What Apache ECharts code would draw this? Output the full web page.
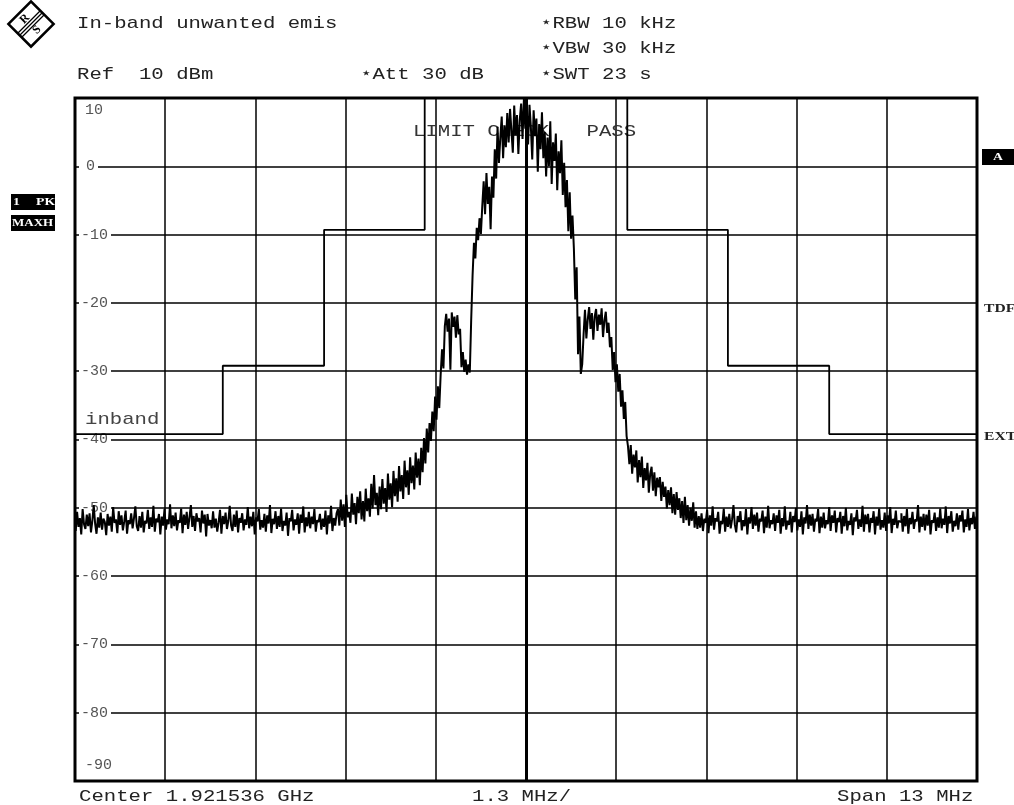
<!DOCTYPE html>
<html><head><meta charset="utf-8">
<script src="https://cdn.jsdelivr.net/npm/echarts@6/dist/echarts.min.js"></script>
<style>html,body{margin:0;padding:0;background:#fff}#c{width:1014px;height:805px}</style>
</head><body><div id="c"></div>
<script>
// Sweep: frequency offset from centre (MHz), evenly spaced analyzer points
const sweepStartMHz = -6.5;
const sweepStepMHz = 0.02;

// Trace levels (dBm) (max hold)
const traceLeftFloor = [
-51.2,-53.4,-50.6,-52.8,-51.5,-53.9,-50.2,-52.4,-53.1,-51.0,
-52.7,-50.8,-53.6,-51.9,-49.6,-52.3,-53.8,-51.4,-52.9,-50.7,
-53.2,-51.6,-52.1,-54.0,-50.9,-52.6,-51.3,-53.5,-49.9,-52.2,
-51.7,-53.7,-50.5,-52.5,-51.1,-53.3,-52.0,-50.4,-53.8,-51.8,
-52.4,-50.8,-53.0,-51.5,-49.8,-52.7,-53.4,-51.2,-52.9,-50.6,
-53.6,-51.9,-52.3,-50.3,-53.1,-51.4,-52.8,-49.7,-53.5,-51.6,
-52.1,-50.9,-53.9,-51.3,-52.6,-50.2,-53.2,-51.7,-52.4,-49.5,
-53.0,-51.1,-52.7,-50.7,-53.3,-51.8,-52.2,-50.1,-53.7,-51.0,
-52.5,-50.6,-53.1,-51.4,-49.6,-52.8,-51.2,-53.4,-50.8,-52.0,
-51.5,-53.6,-50.4,-52.3,-51.0,-54.2,-50.9,-52.6,-51.8,-53.0,
-50.5,-52.9,-51.6,-53.5,-52.1,-50.3,-53.8,-51.2,-52.4,-50.7,
-53.1,-51.9,-49.7,-52.6,-53.4,-51.0,-52.8,-50.4,-53.6,-51.5,
-52.2,-50.8,-53.3,-51.7,-52.5,-49.9,-53.0,-51.3,-52.7,-50.6,
-53.9,-51.4,-52.0,-50.2,-53.2,-51.8,-52.9,-50.9,-53.5,-51.1,
-52.3,-49.6,-53.7,-51.6,-52.4,-50.5,-53.1,-51.2,-52.8,-50.1,
-53.4,-51.9,-52.6,-50.7,-54.1,-51.5,-52.0,-50.3,-53.3,-51.7,
-52.5,-50.8,-53.8,-51.0,-52.2,-49.8,-53.6,-51.4,-52.7,-50.6,
-53.0,-51.3,-52.4,-50.2,-53.5,-51.8,-52.1,-50.9,-53.2,-51.6,
-52.8,-50.4,-53.9,-51.1,-52.3,-49.7,-53.4,-51.5,-52.6,-50.8
];
const traceSignal = [
-50.2,-52.6,-48.8,-51.9,-49.5,-52.8,-48.1,-51.4,-50.6,-52.2,
-47.9,-51.0,-49.3,-52.4,-48.4,-50.8,-47.6,-51.7,-49.0,-52.0,
-47.2,-50.5,-48.6,-51.3,-46.5,-50.1,-45.2,-49.6,-47.8,-51.1,
-46.9,-50.2,-45.8,-49.4,-47.1,-50.6,-45.0,-48.8,-46.4,-49.9,
-44.6,-48.3,-45.7,-49.1,-43.9,-47.6,-45.2,-48.7,-43.1,-47.0,
-44.5,-48.1,-42.6,-46.4,-43.8,-47.3,-41.9,-45.6,-42.8,-46.7,
-41.2,-44.8,-39.8,-43.5,-38.4,-41.9,-37.6,-40.2,-35.9,-38.8,-33.7,-37.1,-32.2,-35.4,
-30.5,-26.8,-29.6,-23.4,
-21.6,-24.2,-22.3,-29.8,-21.4,-23.5,-22.0,-25.1,-21.8,-24.6,
-23.8,-29.4,-27.2,-30.1,-28.3,-30.5,-29.0,-30.2,-22.5,
-16.0,-11.2,-13.5,-9.0,-10.8,-7.6,-9.9,-5.8,
-2.2,-7.0,-1.0,-5.5,-3.0,-9.2,-1.5,-4.6,
2.5,-1.8,5.8,0.5,4.2,7.3,1.2,6.0,2.8,
7.8,3.5,8.4,5.2,2.0,8.9,4.6,7.5,1.8,6.8,9.2,4.0,9.9,5.5,
8.7,3.2,9.0,5.8,1.0,8.2,4.4,7.0,-0.8,6.2,2.5,7.9,
1.2,5.0,-1.5,4.2,0.0,6.6,-2.6,3.5,0.8,4.8,-3.5,2.2,-1.0,3.8,
-4.2,0.5,-6.0,-2.0,-9.5,-3.8,-10.6,-7.2,
-12.0,-19.5,-14.8,-27.5,-22.0,-30.4,-29.0,
-24.6,-21.0,-25.2,-22.4,-20.6,-23.8,-21.5,-25.4,-22.0,-20.9,
-24.1,-21.7,-23.2,-20.8,-25.0,-22.6,-21.3,-24.4,-22.9,-26.5,-25.0,
-29.8,-27.2,-31.6,-29.0,-33.0,-30.4,-35.2,-32.8,-37.0,-34.5,-39.5,
-41.0,-43.6,-40.8,-45.0,-42.2,-44.1,-41.6,-46.3,-43.0,-45.5,
-42.5,-47.1,-44.2,-46.0,-43.4,-47.8,-45.0,-44.0,-47.5,-44.8,-48.3,-45.6,-47.0,
-45.5,-49.0,-46.2,-48.4,-46.9,-50.1,-47.4,-49.6,-47.0,-50.8,
-48.0,-51.0,-47.7,-50.3,-48.6,-51.5,-49.0,-52.2,-48.4,-51.8,
-49.6,-52.6,-50.0,-51.9,-49.2,-52.9,-50.5,-53.1,-51.2
];
const traceRightFloor = [
-52.9,-50.8,-53.4,-51.6,-52.2,-50.3,-53.7,-51.1,-52.6,-49.8,
-53.2,-51.5,-52.0,-50.6,-53.8,-51.9,-52.4,-50.1,-53.5,-51.3,
-52.8,-50.9,-53.0,-51.7,-49.6,-52.5,-53.6,-51.2,-52.1,-50.5,
-53.3,-51.8,-52.7,-50.2,-53.9,-51.4,-52.3,-49.9,-53.1,-51.0,
-52.6,-50.7,-53.5,-51.6,-52.0,-50.4,-53.7,-51.3,-52.9,-49.7,
-53.0,-51.8,-52.4,-50.8,-53.4,-51.1,-52.2,-50.3,-53.8,-51.5,
-52.7,-49.8,-53.2,-51.9,-52.5,-50.6,-53.6,-51.2,-52.1,-50.0,
-53.3,-51.7,-52.8,-50.5,-53.9,-51.4,-52.3,-49.6,-53.1,-51.0,
-52.6,-50.9,-53.5,-51.6,-52.0,-50.2,-53.7,-51.3,-52.9,-50.7,
-53.0,-51.8,-52.4,-49.9,-53.4,-51.1,-52.2,-50.4,-53.6,-51.5,
-52.1,-50.6,-53.8,-51.2,-52.7,-50.0,-53.3,-51.9,-52.5,-50.8,
-54.0,-51.4,-52.0,-50.3,-53.1,-51.7,-52.8,-49.7,-53.5,-51.0,
-52.4,-50.9,-53.6,-51.5,-52.2,-50.5,-53.9,-51.3,-52.6,-50.1,
-53.2,-51.8,-52.9,-50.7,-53.4,-51.1,-52.3,-49.9,-53.7,-51.6,
-52.5,-50.4,-53.0,-51.9,-52.1,-50.8,-53.5,-51.2,-52.7,-50.2,
-53.8,-51.5,-52.4,-50.6,-53.1,-51.7,-52.0,-49.6,-53.6,-51.3,
-52.8,-50.9,-53.3,-51.0,-52.6,-50.3,-53.9,-51.8,-52.2,-50.7,
-53.4,-51.4,-52.9,-50.1,-53.0,-51.6,-52.5,-49.8,-53.7,-51.2,
-52.3,-50.5,-53.5,-51.9,-52.7,-50.8,-53.2,-51.1,-52.0,-50.4,
-53.6,-51.7,-52.8,-50.2,-53.3,-51.5,-52.4,-50.6,-53.1,-51.3
];

// Limit line "inband": segment edges (MHz) and levels (dBm)
const limitEdgesMHz = [-6.5, -4.37, -2.91, -1.46, 1.46, 2.91, 4.37, 6.5];
const limitLevels = [-39.2, -29.2, -9.3, 20, -9.3, -29.2, -39.2];

// Axis scale
const yMin = -90, yMax = 10, yStep = 10;
const xMin = -6.5, xMax = 6.5, xStep = 1.3;

// Texts
const headerLeft = ['In-band unwanted emis', 'Ref  10 dBm'];
const headerRight = ['\u22C6RBW 10 kHz', '\u22C6VBW 30 kHz', '\u22C6SWT 23 s'];
const attText = '\u22C6Att 30 dB';
const footer = ['Center 1.921536 GHz', '1.3 MHz/', 'Span 13 MHz'];

const levels = traceLeftFloor.concat(traceSignal, traceRightFloor);
const traceData = levels.map((v, i) => [sweepStartMHz + i * sweepStepMHz, v]);
const limitData = [];
for (let i = 0; i < limitLevels.length; i++) {
  limitData.push([limitEdgesMHz[i], limitLevels[i]]);
  limitData.push([limitEdgesMHz[i + 1], limitLevels[i]]);
}

const MONO = '"Liberation Mono", "DejaVu Sans Mono", monospace';
const HDR = { fs: 17, sx: 1.215, col: '#222' };
function txt(x, y, s, opt) {
  opt = opt || {};
  return {
    type: 'text', x: x, y: y, scaleX: opt.sx || HDR.sx, z: opt.z || 10, silent: true,
    style: {
      text: s, fill: opt.fill || HDR.col,
      font: (opt.weight || 'normal') + ' ' + (opt.fs || HDR.fs) + 'px ' + (opt.family || MONO),
      align: 'left', verticalAlign: 'middle', textAlign: 'left', textVerticalAlign: 'middle'
    }
  };
}
function box(x, y, w, h) {
  return { type: 'rect', shape: { x: x, y: y, width: w, height: h }, style: { fill: '#000' }, z: 10, silent: true };
}
const SERIF = '"Liberation Serif", "DejaVu Serif", serif';
const BOLD = { weight: 'bold', fs: 12, family: SERIF, sx: 1.3 };
const BOLDW = { weight: 'bold', fs: 11, family: SERIF, sx: 1.25, fill: '#fff' };

const logo = {
  type: 'group', x: 31, y: 24, z: 10, silent: true,
  children: [
    { type: 'rect', shape: { x: -16, y: -16, width: 32, height: 32 }, rotation: Math.PI / 4,
      style: { fill: 'none', stroke: '#000', lineWidth: 2.5 } },
    { type: 'line', shape: { x1: -13.5, y1: 9.5, x2: 9.5, y2: -13.5 }, style: { stroke: '#000', lineWidth: 1.2 } },
    { type: 'line', shape: { x1: -11.5, y1: 11.5, x2: 11.5, y2: -11.5 }, style: { stroke: '#000', lineWidth: 1.2 } },
    { type: 'line', shape: { x1: -9.5, y1: 13.5, x2: 13.5, y2: -9.5 }, style: { stroke: '#000', lineWidth: 1.2 } },
    { type: 'text', x: -6, y: -5, rotation: Math.PI / 4,
      style: { text: 'R', font: 'bold 12px ' + SERIF, fill: '#000', align: 'center', verticalAlign: 'middle', textAlign: 'center', textVerticalAlign: 'middle' } },
    { type: 'text', x: 6, y: 6, rotation: Math.PI / 4,
      style: { text: 'S', font: 'bold 12px ' + SERIF, fill: '#000', align: 'center', verticalAlign: 'middle', textAlign: 'center', textVerticalAlign: 'middle' } }
  ]
};

const graphics = [
  logo,
  txt(77, 23, headerLeft[0]),
  txt(77, 74, headerLeft[1]),
  txt(360, 74, attText),
  txt(540, 23, headerRight[0]),
  txt(540, 48, headerRight[1]),
  txt(540, 74, headerRight[2]),
  txt(413, 131, 'LIMIT CHECK   PASS', { z: 1, fill: '#333' }),
  txt(85, 419, 'inband', { fill: '#444' }),
  txt(79, 796, footer[0]),
  txt(472, 796, footer[1]),
  txt(837, 796, footer[2]),
  box(11, 194, 44, 16),
  txt(13, 202, '1', BOLDW),
  txt(36, 202, 'PK', BOLDW),
  box(11, 215, 44, 16),
  txt(12, 223, 'MAXH', Object.assign({}, BOLDW, { fs: 10, sx: 1.3 })),
  box(982, 149, 32, 16),
  txt(993, 157, 'A', BOLDW),
  txt(984, 309, 'TDF', BOLD),
  txt(984, 437, 'EXT', BOLD)
];

const chart = echarts.init(document.getElementById('c'), null, { renderer: 'canvas' });
chart.setOption({
  animation: false,
  backgroundColor: '#fff',
  grid: { left: 75, top: 98, width: 902, height: 683, show: true, borderColor: '#000', borderWidth: 3, backgroundColor: 'transparent' },
  xAxis: {
    type: 'value', min: xMin, max: xMax, interval: xStep,
    axisLine: { show: false }, axisTick: { show: false }, axisLabel: { show: false },
    splitLine: { show: true, lineStyle: { color: '#000', width: 1.5 } }
  },
  yAxis: {
    type: 'value', min: yMin, max: yMax, interval: yStep,
    axisLine: { show: false }, axisTick: { show: false },
    splitLine: { show: true, lineStyle: { color: '#000', width: 1.5 } },
    axisLabel: {
      inside: true, margin: 4,
      formatter: function (v) {
        if (v === yMax) return '{t|' + v + '}';
        if (v === yMin) return '{b|' + v + '}';
        return (v >= 0 ? '{p|' : '{m|') + v + '}';
      },
      rich: {
        t: { fontFamily: MONO, fontSize: 15, color: '#555', padding: [24, 0, 0, 6] },
        b: { fontFamily: MONO, fontSize: 15, color: '#555', padding: [0, 0, 32, 6] },
        m: { fontFamily: MONO, fontSize: 15, color: '#555', backgroundColor: '#fff', padding: [0, 3, 0, 2] },
        p: { fontFamily: MONO, fontSize: 15, color: '#555', backgroundColor: '#fff', padding: [0, 3, 0, 7] }
      }
    }
  },
  series: [
    {
      name: 'inband', type: 'line', data: limitData, symbol: 'none', silent: true, z: 3,
      lineStyle: { color: '#000', width: 1.8 }
    },
    {
      name: '1 PK MAXH', type: 'line', data: traceData, step: 'middle', symbol: 'none', silent: true, z: 4,
      lineStyle: { color: '#000', width: 2 },
      markLine: {
        silent: true, symbol: 'none', label: { show: false }, animation: false,
        lineStyle: { color: '#000', width: 3, type: 'solid' },
        data: [{ xAxis: 0 }]
      }
    }
  ],
  graphic: graphics
});
</script>
</body></html>
